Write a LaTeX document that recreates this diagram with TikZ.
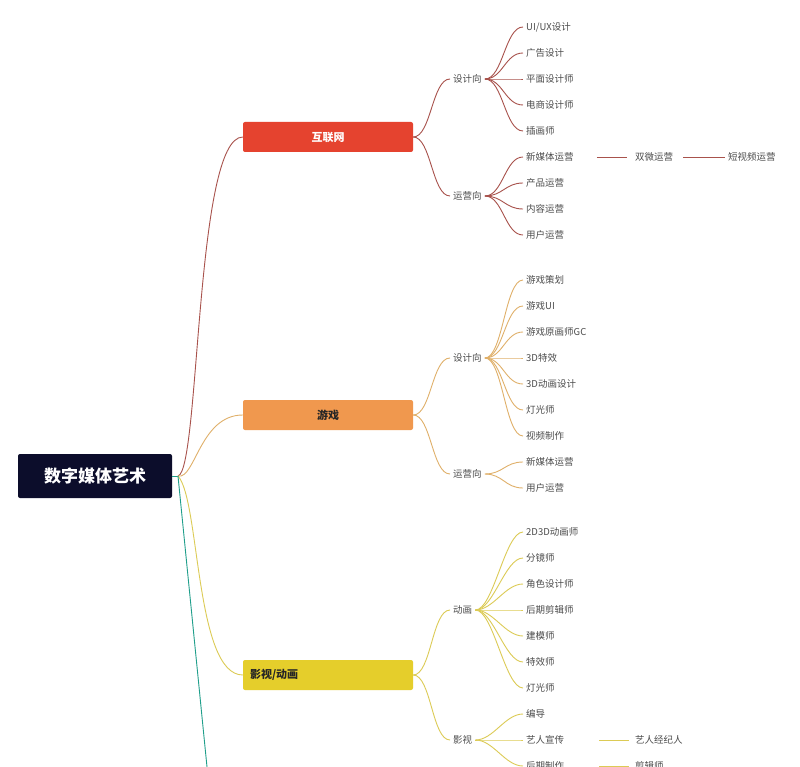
\documentclass[tikz,border=0pt]{standalone}
\usepackage{fontspec}
\setmainfont{Noto Sans CJK SC}
\usetikzlibrary{positioning}
\definecolor{rootc}{HTML}{0C0D2B}
\definecolor{redc}{HTML}{E5432F}
\definecolor{orac}{HTML}{F0984E}
\definecolor{yelc}{HTML}{E5CE2B}
\definecolor{redl}{HTML}{A8524C}
\definecolor{oral}{HTML}{E0B06A}
\definecolor{yell}{HTML}{DCCB55}
\definecolor{tealc}{HTML}{1E9E8A}
\tikzset{
    rootbox/.style={fill=rootc,text=white,rounded corners=2pt,minimum width=154pt,minimum height=44pt,font=\fontsize{17}{17}\selectfont\bfseries},
    catbox/.style={rounded corners=2pt,minimum width=170pt,minimum height=30pt,font=\fontsize{11}{11}\selectfont\bfseries},
    lbl/.style={anchor=west,inner sep=3pt,text=black!70,font=\fontsize{9.5}{10}\selectfont},
    link/.style={line width=0.9pt},
}
\newcommand\curv[3]{\draw[link,#1] (#2) .. controls +(18,0) and +(-18,0) .. (#3);}
\begin{document}
\begin{tikzpicture}[x=1pt,y=-1pt]
\useasboundingbox[fill=white] (0,0) rectangle (800,767);
% root and main branches
\node[rootbox] (root) at (95,476) {数字媒体艺术};
\node[catbox,fill=redc,text=white] (net) at (328,137) {互联网};
\node[catbox,fill=orac,text=black!85] (game) at (328,415) {游戏};
\node[catbox,fill=yelc,text=black!85,text width=156pt,align=left] (film) at (328,675) {影视/动画};
\coordinate (hub) at (178,476);
\draw[link,tealc] (root.east) -- (hub);
\draw[link,redl] (hub) .. controls (200,470) and (195,137) .. (net.west);
\draw[link,oral] (hub) .. controls (195,480) and (200,415) .. (game.west);
\draw[link,yell] (hub) .. controls (200,500) and (195,675) .. (film.west);
\draw[link,tealc] (hub) -- (207,767);
% second level
\node[lbl] (netd) at (450,79) {设计向};
\node[lbl] (neto) at (450,196) {运营向};
\node[lbl] (gamed) at (450,358) {设计向};
\node[lbl] (gameo) at (450,474) {运营向};
\node[lbl] (filma) at (450,610) {动画};
\node[lbl] (filmv) at (450,740) {影视};
\curv{redl}{net.east}{netd.west}
\curv{redl}{net.east}{neto.west}
\curv{oral}{game.east}{gamed.west}
\curv{oral}{game.east}{gameo.west}
\curv{yell}{film.east}{filma.west}
\curv{yell}{film.east}{filmv.west}
% leaves
\foreach \t [count=\i] in {UI/UX设计,广告设计,平面设计师,电商设计师,插画师}{
  \node[lbl] (nd\i) at (523,{1+26*\i}) {\t};
  \curv{redl}{netd.east}{nd\i.west}}
\foreach \t [count=\i] in {新媒体运营,产品运营,内容运营,用户运营}{
  \node[lbl] (no\i) at (523,{131+26*\i}) {\t};
  \curv{redl}{neto.east}{no\i.west}}
\foreach \t [count=\i] in {游戏策划,游戏UI,游戏原画师GC,3D特效,3D动画设计,灯光师,视频制作}{
  \node[lbl] (gd\i) at (523,{254+26*\i}) {\t};
  \curv{oral}{gamed.east}{gd\i.west}}
\foreach \t [count=\i] in {新媒体运营,用户运营}{
  \node[lbl] (go\i) at (523,{436+26*\i}) {\t};
  \curv{oral}{gameo.east}{go\i.west}}
\foreach \t [count=\i] in {2D3D动画师,分镜师,角色设计师,后期剪辑师,建模师,特效师,灯光师}{
  \node[lbl] (fa\i) at (523,{506+26*\i}) {\t};
  \curv{yell}{filma.east}{fa\i.west}}
\foreach \t [count=\i] in {编导,艺人宣传,后期制作}{
  \node[lbl] (fv\i) at (523,{688+26*\i}) {\t};
  \curv{yell}{filmv.east}{fv\i.west}}
% third level
\node[lbl] (wei) at (632,157) {双微运营};
\node[lbl] (short) at (725,157) {短视频运营};
\node[lbl] (agent) at (632,740) {艺人经纪人};
\node[lbl] (editor) at (632,766) {剪辑师};
\draw[link,redl] (no1.east) ++(20,0) -- ++(30,0);
\draw[link,redl] (wei.east) ++(7,0) -- (short.west);
\draw[link,yell] (fv2.east) ++(32,0) -- ++(30,0);
\draw[link,yell] (fv3.east) ++(32,0) -- ++(30,0);
\end{tikzpicture}
\end{document}
